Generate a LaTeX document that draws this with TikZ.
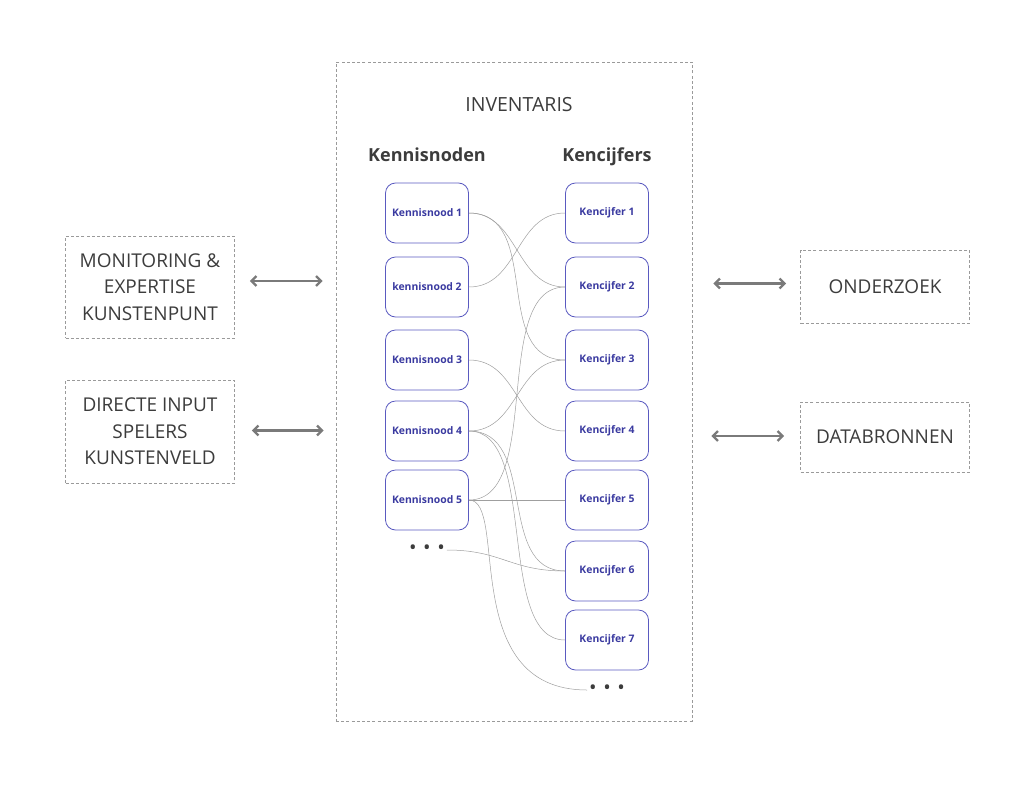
\documentclass[tikz,border=0pt]{standalone}
\usepackage{fontspec}
\setmainfont{Open Sans}
\usetikzlibrary{arrows.meta,positioning}

\definecolor{boxblue}{HTML}{5A5AC0}
\definecolor{txtblue}{HTML}{3A3AA0}
\definecolor{txtgray}{HTML}{3C3C3C}
\definecolor{dashgray}{HTML}{9A9A9A}
\definecolor{arrgray}{HTML}{7A7A7A}

\tikzset{
  dashbox/.style={draw=dashgray, line width=0.7pt, dash pattern=on 3pt off 2.2pt},
  outside/.style={dashbox, minimum width=169pt, align=center, text=txtgray,
    font=\fontsize{19}{26.5}\selectfont},
  item/.style={draw=boxblue, line width=0.8pt, rounded corners=10pt,
    minimum width=83pt, minimum height=60pt, text=txtblue,
    font=\fontsize{10.4}{12}\selectfont\bfseries},
  heading/.style={text=txtgray, anchor=base, font=\fontsize{18}{22}\selectfont\bfseries},
  dots/.style={text=txtgray, font=\fontsize{20}{20}\selectfont, inner sep=2pt},
  link/.style={draw=gray!75, line width=0.5pt},
  both/.style={{Straight Barb[length=5pt,width=10pt]}-{Straight Barb[length=5pt,width=10pt]},
    draw=arrgray, line width=2.3pt}
}

\begin{document}
\begin{tikzpicture}[x={(1pt,0)}, y={(0,-1pt)}]
\useasboundingbox (0,0) rectangle (1024,784);
% the inventory frame
\node[dashbox, minimum width=356pt, minimum height=659pt] (inv) at (514,391.5) {};
\node[text=txtgray, font=\fontsize{19.5}{22}\selectfont] (invtitle) at (519,105) {INVENTARIS};
\node[heading] (hkn) at (427,161) {Kennisnoden};
\node[heading] (hkc) at (607,161) {Kencijfers};
% kennisnoden (left column)
\node[item] (kn1) at (427,213) {Kennisnood 1};
\node[item] (kn2) at (427,287) {kennisnood 2};
\foreach \i/\y in {3/360,4/431,5/500}
  \node[item] (kn\i) at (427,\y) {Kennisnood \i};
\node[dots] (kndots) at (427,550) {\textbullet\hspace{6.5pt}\textbullet\hspace{6.5pt}\textbullet};
% kencijfers (right column)
\foreach \i/\y in {1/213,2/287,3/360,4/431,5/500,6/571,7/640}
  \node[item] (kc\i) at (607,\y) {Kencijfer \i};
\node[dots] (kcdots) at (607,690) {\textbullet\hspace{6.5pt}\textbullet\hspace{6.5pt}\textbullet};
% links between the two columns
\draw[link] (kn1.east) .. controls +(50,0) and +(-50,0) .. (kc2.west);
\draw[link] (kn1.east) .. controls +(75,0) and +(-75,0) .. (kc3.west);
\draw[link] (kn2.east) .. controls +(50,0) and +(-50,0) .. (kc1.west);
\draw[link] (kn3.east) .. controls +(50,0) and +(-50,0) .. (kc4.west);
\draw[link] (kn4.east) .. controls +(50,0) and +(-50,0) .. (kc3.west);
\draw[link] (kn4.east) .. controls +(70,0) and +(-70,0) .. (kc6.west);
\draw[link] (kn4.east) .. controls +(70,0) and +(-70,0) .. (kc7.west);
\draw[link] (kn5.east) .. controls +(75,0) and +(-75,0) .. (kc2.west);
\draw[link] (kn5.east) -- (kc5.west);
\draw[link] (kn5.east) .. controls +(40,0) and +(-130,0) .. (kcdots.west);
\draw[link] (kndots.east) .. controls +(55,0) and +(-55,0) .. (kc6.west);
% outside sources and users
\node[outside, minimum height=102pt] (mon) at (150,287) {MONITORING \&\\EXPERTISE\\KUNSTENPUNT};
\node[outside, minimum height=103pt] (dir) at (150,431.5) {DIRECTE INPUT\\SPELERS\\KUNSTENVELD};
\node[outside, minimum height=73pt] (ond) at (885,286.5) {ONDERZOEK};
\node[outside, minimum height=70pt] (data) at (885,437) {DATABRONNEN};
\draw[both, shorten <=15pt, shorten >=13pt] ([yshift=6pt]mon.east) -- ([yshift=6pt]mon.east -| inv.west);
\draw[both, shorten <=17pt, shorten >=12pt] ([yshift=1pt]dir.east) -- ([yshift=1pt]dir.east -| inv.west);
\draw[both, shorten <=21pt, shorten >=14pt] ([yshift=3pt]inv.east |- ond.west) -- ([yshift=3pt]ond.west);
\draw[both, shorten <=19pt, shorten >=16pt] ([yshift=1pt]inv.east |- data.west) -- ([yshift=1pt]data.west);
\end{tikzpicture}
\end{document}
